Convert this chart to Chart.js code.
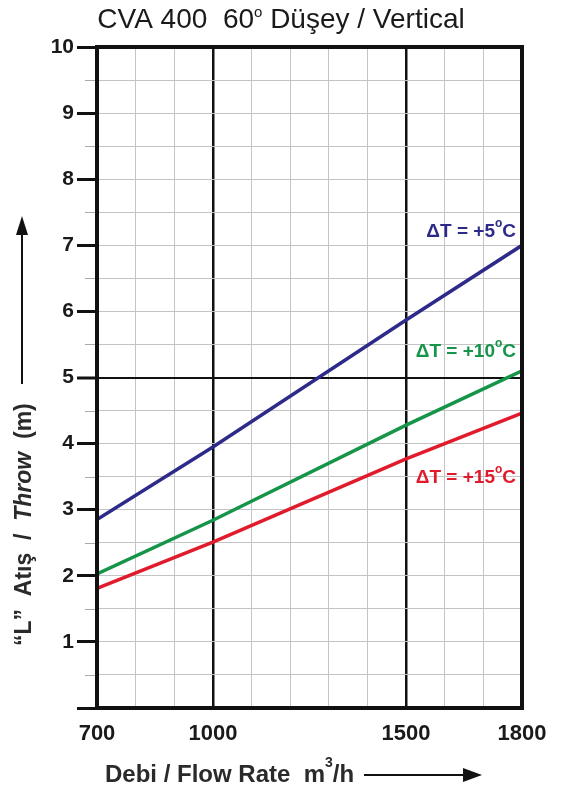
<!DOCTYPE html>
<html>
<head>
<meta charset="utf-8">
<script src="https://cdn.jsdelivr.net/npm/chart.js@4.4.1/dist/chart.umd.min.js"></script>
<style>
  html, body { margin: 0; padding: 0; background: #fff; }
  #wrap { width: 561px; height: 787px; position: relative; }
</style>
</head>
<body>
<div id="wrap"><canvas id="chart"></canvas></div>
<script>
// flow rate (m3/h) where values were read
const flowRates = [700, 1000, 1500, 1800];
// throw (m) per temperature difference
const throwDT5 = [2.85, 3.95, 5.87, 7.0];
const throwDT10 = [2.03, 2.84, 4.28, 5.1];
const throwDT15 = [1.81, 2.51, 3.77, 4.46];
const seriesNames = ['\u0394T = +5\u00B0C', '\u0394T = +10\u00B0C', '\u0394T = +15\u00B0C'];
const xLabels = [700, 1000, 1500, 1800];
const xMajor = [1000, 1500];

const colors = ['#2e2a8a', '#16944a', '#e01b2c'];
const FONT = '"Liberation Sans", Arial, sans-serif';

const toPoints = (vals) => flowRates.map((x, i) => ({ x: x, y: vals[i] }));

// frame, short half ticks, curve labels and axis titles
const decorations = {
  id: 'decorations',
  afterDraw(chart) {
    const { ctx, chartArea: a, scales: { x, y } } = chart;
    ctx.save();

    // half-step ticks on the left
    ctx.strokeStyle = '#aaa';
    ctx.lineWidth = 1;
    for (let v = 0.5; v < 10; v += 1) {
      const py = Math.round(y.getPixelForValue(v)) + 0.5;
      ctx.beginPath();
      ctx.moveTo(a.left - 12, py);
      ctx.lineTo(a.left, py);
      ctx.stroke();
    }

    // black frame
    ctx.strokeStyle = '#111';
    ctx.lineWidth = 4;
    ctx.strokeRect(a.left, a.top, a.right - a.left, a.bottom - a.top);

    // curve labels
    ctx.textAlign = 'right';
    ctx.textBaseline = 'middle';
    const labelY = [7.2, 5.39, 3.48];
    labelY.forEach((v, i) => {
      const px = x.getPixelForValue(1800) - 6;
      const py = y.getPixelForValue(v);
      const parts = seriesNames[i].split('\u00B0');
      ctx.fillStyle = colors[i];
      ctx.font = 'bold 19px ' + FONT;
      const wC = ctx.measureText(parts[1]).width;
      ctx.fillText(parts[1], px, py);
      ctx.font = 'bold 12px ' + FONT;
      const wDeg = ctx.measureText('o').width;
      ctx.fillText('o', px - wC, py - 8);
      ctx.font = 'bold 19px ' + FONT;
      ctx.fillText(parts[0], px - wC - wDeg, py);
    });

    // main title
    ctx.fillStyle = '#1a1a1a';
    ctx.textAlign = 'left';
    ctx.textBaseline = 'alphabetic';
    const t1 = 'CVA 400  60';
    const t2 = ' D\u00FC\u015Fey / Vertical';
    ctx.font = '15px ' + FONT;
    const wo = ctx.measureText('o').width;
    ctx.font = '28px ' + FONT;
    const total = ctx.measureText(t1).width + wo + ctx.measureText(t2).width;
    let tx = 281 - total / 2;
    ctx.fillText(t1, tx, 28);
    tx += ctx.measureText(t1).width;
    ctx.font = '15px ' + FONT;
    ctx.fillText('o', tx, 17);
    tx += wo;
    ctx.font = '28px ' + FONT;
    ctx.fillText(t2, tx, 28);

    // x axis title with arrow
    ctx.fillStyle = '#2a2a2a';
    ctx.font = 'bold 24px ' + FONT;
    let xx = 105;
    const xt1 = 'Debi / Flow Rate  m';
    ctx.fillText(xt1, xx, 782);
    xx += ctx.measureText(xt1).width;
    ctx.font = 'bold 14px ' + FONT;
    ctx.fillText('3', xx, 767);
    xx += ctx.measureText('3').width;
    ctx.font = 'bold 24px ' + FONT;
    ctx.fillText('/h', xx, 782);
    ctx.strokeStyle = '#111';
    ctx.lineWidth = 2;
    ctx.beginPath();
    ctx.moveTo(364, 775);
    ctx.lineTo(466, 775);
    ctx.stroke();
    ctx.fillStyle = '#111';
    ctx.beginPath();
    ctx.moveTo(482, 775);
    ctx.lineTo(463, 768);
    ctx.lineTo(463, 782);
    ctx.closePath();
    ctx.fill();

    // y axis title with arrow (rotated)
    ctx.save();
    ctx.translate(31, 646);
    ctx.rotate(-Math.PI / 2);
    ctx.fillStyle = '#2a2a2a';
    let yx = 0;
    const parts = [
      ['\u201CL\u201D  At\u0131\u015F  /  ', 'bold'],
      ['Throw', 'italic bold'],
      ['  (m)', 'bold']
    ];
    parts.forEach(([txt, st]) => {
      ctx.font = st + ' 23px ' + FONT;
      ctx.fillText(txt, yx, 0);
      yx += ctx.measureText(txt).width;
    });
    ctx.restore();

    ctx.strokeStyle = '#111';
    ctx.lineWidth = 2;
    ctx.beginPath();
    ctx.moveTo(22, 384);
    ctx.lineTo(22, 232);
    ctx.stroke();
    ctx.beginPath();
    ctx.moveTo(22, 216);
    ctx.lineTo(16, 235);
    ctx.lineTo(28, 235);
    ctx.closePath();
    ctx.fill();

    ctx.restore();
  }
};

new Chart(document.getElementById('chart'), {
  type: 'line',
  data: {
    datasets: [
      { label: seriesNames[0], data: toPoints(throwDT5), borderColor: colors[0] },
      { label: seriesNames[1], data: toPoints(throwDT10), borderColor: colors[1] },
      { label: seriesNames[2], data: toPoints(throwDT15), borderColor: colors[2] }
    ].map(d => Object.assign(d, { borderWidth: 3.5, pointRadius: 0, tension: 0, fill: false }))
  },
  options: {
    responsive: true,
    maintainAspectRatio: false,
    animation: false,
    layout: { padding: { top: 47, right: 39, left: 0, bottom: 0 } },
    plugins: { legend: { display: false }, tooltip: { enabled: false }, title: { display: false } },
    scales: {
      x: {
        type: 'linear',
        min: 700,
        max: 1800,
        afterFit: (s) => { s.height = 79; },
        afterBuildTicks: (s) => {
          const t = [];
          for (let v = 700; v <= 1800; v += 100) t.push({ value: v });
          s.ticks = t;
        },
        ticks: {
          autoSkip: false,
          maxRotation: 0,
          padding: 13,
          color: '#1a1a1a',
          font: { family: FONT, size: 22, weight: 'bold' },
          callback: (v) => xLabels.includes(v) ? String(v) : ''
        },
        grid: {
          drawTicks: false,
          color: (c) => xMajor.includes(c.tick && c.tick.value) ? '#111' : '#c4c4c4',
          lineWidth: (c) => xMajor.includes(c.tick && c.tick.value) ? 2.5 : 1
        },
        border: { color: '#111', width: 4 }
      },
      y: {
        type: 'linear',
        min: 0,
        max: 10,
        afterFit: (s) => { s.width = 97; },
        ticks: {
          stepSize: 0.5,
          padding: 3,
          color: '#1a1a1a',
          font: { family: FONT, size: 21, weight: 'bold' },
          callback: (v) => (Number.isInteger(v) && v > 0) ? String(v) : ''
        },
        grid: {
          tickLength: 20,
          tickColor: (c) => (c.tick && Number.isInteger(c.tick.value)) ? '#111' : 'rgba(0,0,0,0)',
          tickWidth: 3,
          color: (c) => (c.tick && c.tick.value === 5) ? '#111' : '#c4c4c4',
          lineWidth: (c) => (c.tick && c.tick.value === 5) ? 2 : 1
        },
        border: { color: '#111', width: 4 }
      }
    }
  },
  plugins: [decorations]
});
</script>
</body>
</html>
